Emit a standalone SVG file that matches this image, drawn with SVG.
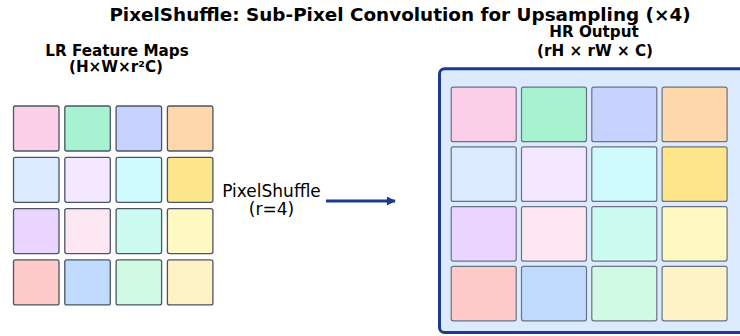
<svg xmlns="http://www.w3.org/2000/svg" width="740" height="336" viewBox="0 0 740 336">
<style>
text{font-family:"DejaVu Sans",sans-serif;fill:#000}
.t{font-size:18.4px;font-weight:bold}
.h{font-size:15.2px;font-weight:bold}
.m{font-size:17px}
.lc{stroke:#4b5563;stroke-width:1.3}
.rc{stroke:#6b7280;stroke-width:1.2}
</style>
<defs>
<marker id="ah" viewBox="0 0 10 10" refX="9" refY="5" markerWidth="4" markerHeight="3" orient="auto" markerUnits="strokeWidth">
<path d="M0,0 L10,5 L0,10 Z" fill="#1e3a8a"/>
</marker>
</defs>
<rect width="740" height="336" fill="#fff"/>
<text class="t" x="400" y="20.7" text-anchor="middle">PixelShuffle: Sub-Pixel Convolution for Upsampling (×4)</text>
<g id="lr">
<text class="h" x="117" y="55.7" text-anchor="middle">LR Feature Maps</text>
<text class="h" x="116" y="72" text-anchor="middle">(H×W×r²C)</text>
<rect class="lc" x="13.5" y="106" width="45.5" height="45" rx="2" fill="#fbcfe8"/>
<rect class="lc" x="64.8" y="106" width="45.5" height="45" rx="2" fill="#a7f3d0"/>
<rect class="lc" x="116.1" y="106" width="45.5" height="45" rx="2" fill="#c7d2fe"/>
<rect class="lc" x="167.4" y="106" width="45.5" height="45" rx="2" fill="#fed7aa"/>
<rect class="lc" x="13.5" y="157.3" width="45.5" height="45" rx="2" fill="#dbeafe"/>
<rect class="lc" x="64.8" y="157.3" width="45.5" height="45" rx="2" fill="#f3e8ff"/>
<rect class="lc" x="116.1" y="157.3" width="45.5" height="45" rx="2" fill="#cffafe"/>
<rect class="lc" x="167.4" y="157.3" width="45.5" height="45" rx="2" fill="#fde68a"/>
<rect class="lc" x="13.5" y="208.6" width="45.5" height="45" rx="2" fill="#e9d5ff"/>
<rect class="lc" x="64.8" y="208.6" width="45.5" height="45" rx="2" fill="#fce7f3"/>
<rect class="lc" x="116.1" y="208.6" width="45.5" height="45" rx="2" fill="#ccfbf1"/>
<rect class="lc" x="167.4" y="208.6" width="45.5" height="45" rx="2" fill="#fef9c3"/>
<rect class="lc" x="13.5" y="259.9" width="45.5" height="45" rx="2" fill="#fecaca"/>
<rect class="lc" x="64.8" y="259.9" width="45.5" height="45" rx="2" fill="#bfdbfe"/>
<rect class="lc" x="116.1" y="259.9" width="45.5" height="45" rx="2" fill="#d1fae5"/>
<rect class="lc" x="167.4" y="259.9" width="45.5" height="45" rx="2" fill="#fef3c7"/>
</g>
<g id="op">
<text class="m" x="271.5" y="196.7" text-anchor="middle">PixelShuffle</text>
<text class="m" x="271.5" y="215" text-anchor="middle">(r=4)</text>
</g>
<g id="connectors">
<line x1="326" y1="201" x2="395" y2="201" stroke="#1e3a8a" stroke-width="3" marker-end="url(#ah)"/>
</g>
<g id="hr">
<text class="h" x="594" y="37.3" text-anchor="middle">HR Output</text>
<text class="h" x="595" y="56" text-anchor="middle">(rH × rW × C)</text>
<rect x="439.5" y="68.8" width="310" height="263.7" rx="5" fill="#dbeafe" stroke="#1e3a8a" stroke-width="3"/>
<rect class="rc" x="451.2" y="87.2" width="65" height="54.5" rx="2" fill="#fbcfe8"/>
<rect class="rc" x="521.5" y="87.2" width="65" height="54.5" rx="2" fill="#a7f3d0"/>
<rect class="rc" x="591.8" y="87.2" width="65" height="54.5" rx="2" fill="#c7d2fe"/>
<rect class="rc" x="662.1" y="87.2" width="65" height="54.5" rx="2" fill="#fed7aa"/>
<rect class="rc" x="451.2" y="146.9" width="65" height="54.5" rx="2" fill="#dbeafe"/>
<rect class="rc" x="521.5" y="146.9" width="65" height="54.5" rx="2" fill="#f3e8ff"/>
<rect class="rc" x="591.8" y="146.9" width="65" height="54.5" rx="2" fill="#cffafe"/>
<rect class="rc" x="662.1" y="146.9" width="65" height="54.5" rx="2" fill="#fde68a"/>
<rect class="rc" x="451.2" y="206.6" width="65" height="54.5" rx="2" fill="#e9d5ff"/>
<rect class="rc" x="521.5" y="206.6" width="65" height="54.5" rx="2" fill="#fce7f3"/>
<rect class="rc" x="591.8" y="206.6" width="65" height="54.5" rx="2" fill="#ccfbf1"/>
<rect class="rc" x="662.1" y="206.6" width="65" height="54.5" rx="2" fill="#fef9c3"/>
<rect class="rc" x="451.2" y="266.3" width="65" height="54.5" rx="2" fill="#fecaca"/>
<rect class="rc" x="521.5" y="266.3" width="65" height="54.5" rx="2" fill="#bfdbfe"/>
<rect class="rc" x="591.8" y="266.3" width="65" height="54.5" rx="2" fill="#d1fae5"/>
<rect class="rc" x="662.1" y="266.3" width="65" height="54.5" rx="2" fill="#fef3c7"/>
</g>
</svg>
